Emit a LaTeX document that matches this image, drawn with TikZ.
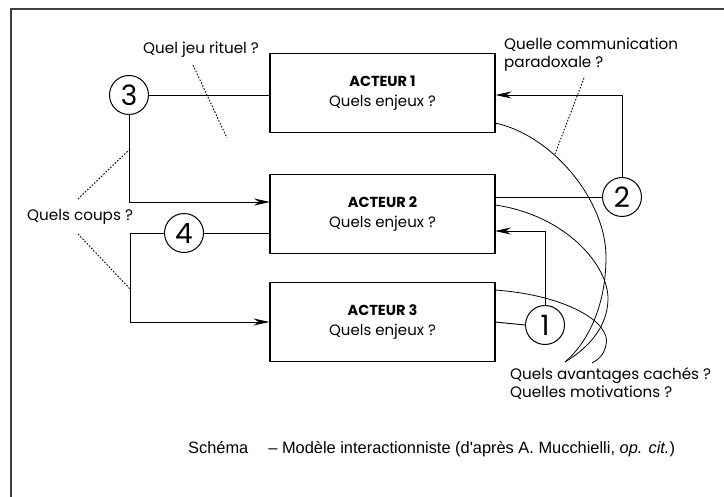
\documentclass[tikz,border=0pt]{standalone}
\usepackage{fontspec}
\setmainfont{Poppins}
\newfontfamily\capfont{Liberation Sans}
\usetikzlibrary{arrows.meta}
\begin{document}
\begin{tikzpicture}[x=1pt,y=-1pt,
  box/.style={draw,line width=1.1pt,minimum width=225pt,minimum height=79pt,inner sep=0pt,align=center,font=\fontsize{15}{20}\selectfont},
  num/.style={draw,circle,line width=1pt,minimum size=39pt,inner sep=0pt,font=\fontsize{28}{28}\selectfont},
  lbl/.style={inner sep=0pt,font=\fontsize{15.2}{18}\selectfont,align=left},
  conn/.style={line width=0.9pt},
  arr/.style={line width=0.9pt,-{Stealth[length=16pt,width=7pt]}},
  dots/.style={line width=0.9pt,dash pattern=on 1.6pt off 1.6pt},
  curve/.style={line width=0.8pt}]
\useasboundingbox (0,0) rectangle (724,497);
\fill[white] (0,0) rectangle (724,497);
% frame
\draw[line width=2pt,black!75] (11,497) -- (11,9) -- (724,9);
% boxes
\node[box] (a1) at (382.5,93) {{\fontsize{14.5}{20}\selectfont\textbf{ACTEUR 1}}\\Quels enjeux ?};
\node[box] (a2) at (382.5,214) {{\fontsize{14.5}{20}\selectfont\textbf{ACTEUR 2}}\\Quels enjeux ?};
\node[box] (a3) at (382.5,322) {{\fontsize{14.5}{20}\selectfont\textbf{ACTEUR 3}}\\Quels enjeux ?};
% circles
\node[num] (c3) at (129,95) {3};
\node[num] (c4) at (184,233) {4};
\node[num] (c2) at (622,197) {2};
\node[num] (c1) at (545,325) {1};
% connectors
\coordinate (k2in) at (270,202);
\coordinate (k2b) at (495,231);
\coordinate (k2out) at (495,197);
\coordinate (k3out) at (495,322);
\draw[conn] (c3.east) -- (a1.west |- c3);
\draw[arr] (c3.south) |- (k2in);
\draw[conn] (c4.east) -- (a2.west |- c4);
\draw[arr] (c4.west) -- ++(-34,0) |- (a3.west);
\draw[conn] (k2out) -- (c2.west);
\draw[arr] (c2.north) |- (a1.east |- c3);
\draw[conn] (k3out) -- (c1.west);
\draw[arr] (c1.north) |- (k2b);
% curves
\coordinate (p1) at (495,123);
\coordinate (p2) at (495,205);
\coordinate (p3) at (495,290);
\coordinate (tipA) at (565,362);
\coordinate (tipC) at (592,363);
\draw[curve] (p1) .. controls (552,135) and (606,200) .. (606,257) .. controls (606,310) and (585,345) .. (tipA);
\draw[curve] (p2) .. controls (565,215) and (609,265) .. (608,300) .. controls (607,330) and (585,350) .. (tipA);
\draw[curve] (p3) .. controls (565,295) and (612,322) .. (606,345) .. controls (604,355) and (598,360) .. (tipC);
% labels
\node[lbl,anchor=west] (jeu) at (143,50) {Quel jeu rituel ?};
\node[lbl,anchor=north west] (com) at (504,38) {Quelle communication\\paradoxale ?};
\node[lbl,anchor=west] (coups) at (27,217) {Quels coups ?};
\node[lbl,anchor=north west] (av) at (510,367) {Quels avantages cachés ?\\Quelles motivations ?};
\node[inner sep=0pt,anchor=west,font=\capfont\fontsize{16.4}{20}\selectfont] (cap) at (188,449) {Schéma\hspace{20pt}– Modèle interactionniste (d'après A. Mucchielli, \textit{op. cit.})};
% dotted pointers
\coordinate (d1a) at (193,65);
\coordinate (d1b) at (227,138);
\coordinate (d2a) at (584,78);
\coordinate (d2b) at (555,154);
\coordinate (d3a) at (78,199);
\coordinate (d3b) at (130,149);
\coordinate (d4a) at (78,234);
\coordinate (d4b) at (130,289);
\draw[dots] (d1a) -- (d1b);
\draw[dots] (d2a) -- (d2b);
\draw[dots] (d3a) -- (d3b);
\draw[dots] (d4a) -- (d4b);
\end{tikzpicture}
\end{document}
